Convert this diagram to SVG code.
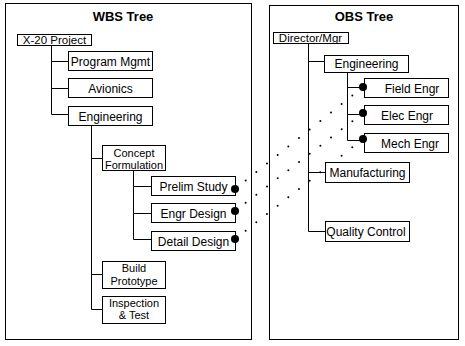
<svg xmlns="http://www.w3.org/2000/svg" width="465" height="346" viewBox="0 0 465 346">
<style>
.panel{fill:#fff;stroke:#000;stroke-width:1}
.box{fill:#fff;stroke:#000;stroke-width:1}
.t{font-family:"Liberation Sans",Arial,sans-serif;font-size:12px;fill:#000;text-anchor:middle}
.t2{font-family:"Liberation Sans",Arial,sans-serif;font-size:11px;fill:#000;text-anchor:middle}
.title{font-family:"Liberation Sans",Arial,sans-serif;font-size:13px;font-weight:bold;fill:#000;text-anchor:middle}
.ln{fill:none;stroke:#000;stroke-width:1}
.dot{fill:#000}
.dl{fill:none;stroke:#000;stroke-width:2;stroke-linecap:round}
</style>
<rect width="465" height="346" fill="#fff"/>
<g id="wbs-panel">
<rect class="panel" x="5.5" y="3.5" width="246" height="336"/>
<text class="title" x="123" y="21">WBS Tree</text>
</g>
<g id="obs-panel">
<rect class="panel" x="269.5" y="5.5" width="189" height="334"/>
<text class="title" x="364" y="21">OBS Tree</text>
</g>
<g id="connectors">
<path class="ln" d="M51.5 46V114.5H68M51.5 61.5H68M51.5 88.5H68"/>
<path class="ln" d="M91.5 125V309.5H103M91.5 158.5H102M91.5 274.5H102"/>
<path class="ln" d="M133.5 171V239.5H151M133.5 186.5H151M133.5 213.5H151"/>
<path class="ln" d="M308.5 43V231.5H325M308.5 61.5H324M308.5 172.5H325"/>
<path class="ln" d="M347.5 72V140.5H364M347.5 87.5H364M347.5 114.5H364"/>
<line class="dl" x1="235" y1="189" x2="363" y2="87" stroke-dasharray="0 13.64"/>
<line class="dl" x1="235" y1="211" x2="363" y2="113" stroke-dasharray="0 13.44"/>
<line class="dl" x1="235" y1="239" x2="363" y2="139" stroke-dasharray="0 13.53"/>
</g>
<g id="x20-project"><rect class="box" x="17.5" y="34.5" width="74" height="11"/><text class="t" x="54.5" y="43.5" style="font-size:11.5px">X-20 Project</text></g>
<g id="program-mgmt"><rect class="box" x="68.5" y="51.5" width="84" height="19"/><text class="t" x="110.5" y="65.5">Program Mgmt</text></g>
<g id="avionics"><rect class="box" x="68.5" y="78.5" width="84" height="19"/><text class="t" x="110.5" y="92.5">Avionics</text></g>
<g id="wbs-engineering"><rect class="box" x="68.5" y="106.5" width="84" height="19"/><text class="t" x="110.5" y="120.5">Engineering</text></g>
<g id="concept-formulation"><rect class="box" x="102.5" y="145.5" width="63" height="25"/><text class="t2" x="134" y="156.5">Concept</text><text class="t2" x="134" y="168.5">Formulation</text></g>
<g id="prelim-study"><rect class="box" x="151.5" y="176.5" width="84" height="19"/><text class="t" x="193.5" y="190.5">Prelim Study</text><circle class="dot" cx="235" cy="189" r="4"/></g>
<g id="engr-design"><rect class="box" x="151.5" y="203.5" width="84" height="19"/><text class="t" x="193.5" y="217.5">Engr Design</text><circle class="dot" cx="235" cy="211" r="4"/></g>
<g id="detail-design"><rect class="box" x="151.5" y="231.5" width="84" height="19"/><text class="t" x="193.5" y="245.5">Detail Design</text><circle class="dot" cx="235" cy="239" r="4"/></g>
<g id="build-prototype"><rect class="box" x="102.5" y="261.5" width="63" height="27"/><text class="t2" x="134" y="272">Build</text><text class="t2" x="134" y="284.5">Prototype</text></g>
<g id="inspection-test"><rect class="box" x="102.5" y="296.5" width="63" height="27"/><text class="t2" x="134" y="306.5">Inspection</text><text class="t2" x="134" y="319">&amp; Test</text></g>
<g id="director-mgr"><rect class="box" x="273.5" y="32.5" width="75" height="11"/><text class="t" x="310.5" y="42" style="font-size:11.5px">Director/Mgr</text></g>
<g id="obs-engineering"><rect class="box" x="324.5" y="55.5" width="84" height="17"/><text class="t" x="366.5" y="68">Engineering</text></g>
<g id="field-engr"><rect class="box" x="364.5" y="78.5" width="84" height="19"/><text class="t" x="412" y="92.5">Field Engr</text><circle class="dot" cx="363" cy="87" r="4"/></g>
<g id="elec-engr"><rect class="box" x="364.5" y="105.5" width="84" height="19"/><text class="t" x="407" y="119.5">Elec Engr</text><circle class="dot" cx="363" cy="113" r="4"/></g>
<g id="mech-engr"><rect class="box" x="364.5" y="133.5" width="84" height="19"/><text class="t" x="410" y="147.5">Mech Engr</text><circle class="dot" cx="363" cy="139" r="4"/></g>
<g id="manufacturing"><rect class="box" x="325.5" y="162.5" width="84" height="20"/><text class="t" x="367.5" y="177">Manufacturing</text></g>
<g id="quality-control"><rect class="box" x="325.5" y="221.5" width="84" height="20"/><text class="t" x="366" y="236">Quality Control</text></g>
</svg>
